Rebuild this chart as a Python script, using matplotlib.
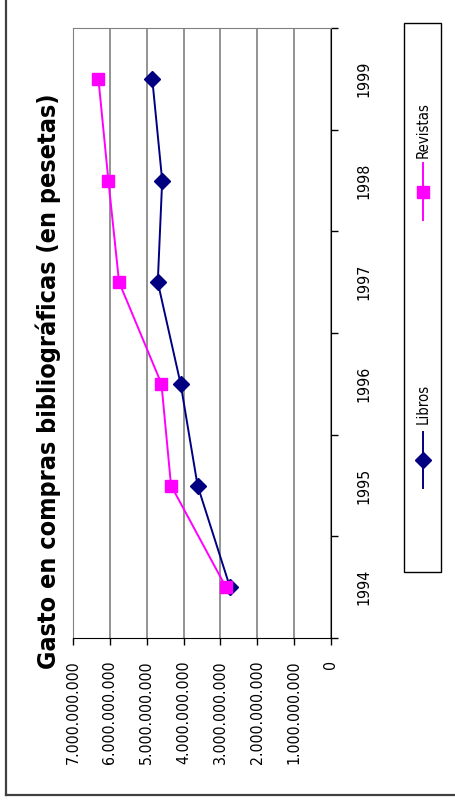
import numpy as np
import matplotlib
matplotlib.use("Agg")
from matplotlib import pyplot as plt
from matplotlib import font_manager
from matplotlib.lines import Line2D
from matplotlib.patches import Rectangle

years = ["1994", "1995", "1996", "1997", "1998", "1999"]
libros = [2.74e9, 3.62e9, 4.08e9, 4.70e9, 4.58e9, 4.85e9]
revistas = [2.85e9, 4.34e9, 4.60e9, 5.75e9, 6.04e9, 6.31e9]
value_ticks = [0, 1e9, 2e9, 3e9, 4e9, 5e9, 6e9, 7e9]
title = "Gasto en compras bibliográficas (en pesetas)"

W, H = 456, 801
NAVY = "#000080"
MAGENTA = "#FF00FF"

# narrow font if there is one, otherwise plain DejaVu
fonts = font_manager.fontManager.ttflist
names = {f.name for f in fonts}
FONT, STRETCH = "DejaVu Sans", "normal"
if "Liberation Sans Narrow" in names:
    FONT = "Liberation Sans Narrow"
elif any(f.name == "DejaVu Sans" and "condensed" in str(f.stretch) for f in fonts):
    STRETCH = "condensed"


def px(x, y):
    # pixel position (top-left origin) -> figure fraction
    return x / W, 1 - y / H


def fmt(v):
    return "{:,.0f}".format(v).replace(",", ".")


fig = plt.figure(figsize=(W / 100, H / 100), dpi=100)
renderer = fig.canvas.get_renderer()


def fit(text, target, weight="normal"):
    # font size that makes the text `target` pixels long
    t = fig.text(0, 0, text, fontsize=10, fontfamily=FONT, fontstretch=STRETCH, fontweight=weight)
    w = t.get_window_extent(renderer).width
    t.remove()
    return 10 * target / w


tick_fs = fit("7.000.000.000", 105)
legend_fs = fit("Revistas", 56)
title_fs = fit(title, 573, "bold")
font = dict(fontfamily=FONT, fontstretch=STRETCH)

left, top, right, bottom = 73, 28, 331, 638
ax = fig.add_axes([left / W, 1 - bottom / H, (right - left) / W, (bottom - top) / H])

pos = np.arange(len(years)) + 0.5
ax.plot(libros, pos, color=NAVY, lw=1.4, marker="D", ms=8, zorder=3)
ax.plot(revistas, pos, color=MAGENTA, lw=1.4, marker="s", ms=9, zorder=3)

ax.set_xlim(7e9, 0)
ax.set_ylim(0, len(years))

ax.set_xticks(value_ticks)
ax.set_xticklabels([fmt(v) for v in value_ticks], rotation=90, fontsize=tick_fs, **font)
ax.tick_params(axis="x", direction="out", length=5, pad=11, width=1)
ax.grid(axis="x", color="#808080", lw=1.2)
ax.set_axisbelow(True)

ax.yaxis.tick_right()
ax.set_yticks(np.arange(len(years) + 1))
ax.set_yticklabels([])
ax.set_yticks(pos, minor=True)
ax.set_yticklabels(years, minor=True, rotation=90, va="center", fontsize=tick_fs, **font)
ax.tick_params(axis="y", which="major", direction="out", length=5, width=1)
ax.tick_params(axis="y", which="minor", length=0, pad=18)

ax.spines["top"].set_color("#808080")
ax.spines["left"].set_color("#808080")
ax.spines["right"].set_color("black")
ax.spines["bottom"].set_color("black")

# title, rotated like the rest of the chart
tx, ty = px(48, 381)
fig.text(tx, ty, title, rotation=90, ha="center", va="center",
         fontweight="bold", fontsize=title_fs, **font)

# legend box drawn by hand (rotated)
x0, y0 = px(404, 572)
fig.add_artist(Rectangle((x0, y0), 37 / W, 549 / H, transform=fig.transFigure,
                         fill=False, edgecolor="black", lw=1))

for name, color, mk, ms, (ya, yb), ytext in [
    ("Revistas", MAGENTA, "s", 9, (163, 220), 130),
    ("Libros", NAVY, "D", 8, (432, 488), 404),
]:
    xa, ya_f = px(423, ya)
    _, yb_f = px(423, yb)
    fig.add_artist(Line2D([xa, xa], [ya_f, yb_f], color=color, lw=1.4,
                          transform=fig.transFigure))
    _, ym = px(423, (ya + yb) / 2)
    fig.add_artist(Line2D([xa], [ym], color=color, marker=mk, ms=ms,
                          transform=fig.transFigure))
    lx, ly = px(423, ytext)
    fig.text(lx, ly, name, rotation=90, ha="center", va="center",
             fontsize=legend_fs, **font)

# outer frame (left and bottom edges)
fig.add_artist(Line2D([6 / W, 6 / W], [1 - 795 / H, 1], color="#404040", lw=1.6,
                      transform=fig.transFigure))
fig.add_artist(Line2D([6 / W, 1], [1 - 795 / H, 1 - 795 / H], color="#404040", lw=1.6,
                      transform=fig.transFigure))

fig.savefig("out.png", dpi=100)
